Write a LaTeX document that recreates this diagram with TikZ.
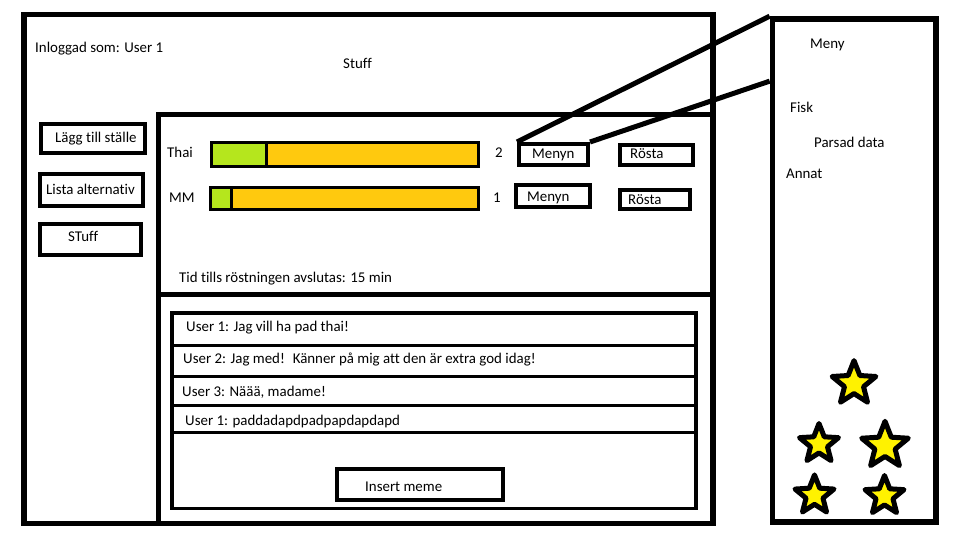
\documentclass[tikz,border=0pt]{standalone}
\usepackage{fontspec}
\setmainfont{Carlito}[Ligatures=NoCommon]
\usepackage{tikz}
\usetikzlibrary{calc}
\usetikzlibrary{shapes.geometric}

\definecolor{barGreen}{RGB}{181,230,29}
\definecolor{barGold}{RGB}{255,201,14}
\definecolor{starYellow}{RGB}{255,242,0}

\tikzset{
    frame/.style={draw, rectangle, line width=5.5pt, inner sep=0pt},
    box/.style={draw, rectangle, line width=4.3pt, inner sep=0pt},
    txt/.style={anchor=west, inner sep=0pt, font=\fontsize{14.9}{17}\selectfont, text height=13.5pt, text depth=3pt},
    staricon/.style={star, star points=5, star point ratio=2.3, draw, fill=starYellow, line width=5pt, line join=round, inner sep=0pt}
}

\begin{document}
\begin{tikzpicture}[x=1pt, y=-1pt]
        \useasboundingbox (0,0) rectangle (955,538);

        % Main window and its two panels
        \node[frame, minimum width=689, minimum height=509] (app) at (368.5,269) {};
        \node[frame, line width=5pt, minimum width=554.5, minimum height=179.5] (votepanel) at (435.75,204.25) {};
        \node[frame, line width=5pt, minimum width=554.5, minimum height=229.5] (chatpanel) at (435.75,408.75) {};

        % Side menu
        \node[frame, line width=5.7pt, minimum width=163.5, minimum height=503] (meny) at (854.25,270.5) {};

        % Top texts
        \node[txt] (login) at (35,47) {Inloggad som: User 1};
        \node[txt] (stuff) at (343,63) {Stuff};

        % Left buttons
        \node[box, minimum width=104, minimum height=29] (addplace) at (93,138.5) {};
        \node[box, minimum width=103, minimum height=32] (listalt) at (91.5,190) {};
        \node[box, minimum width=101, minimum height=31] (stuffbtn) at (90.5,239.5) {};
        \node[txt] at (55,137) {Lägg till ställe};
        \node[txt] at (46,189) {Lista alternativ};
        \node[txt] at (68,236) {STuff};

        % Vote bars
        \fill[barGold] (211.5,142.5) rectangle (478.5,166);
        \fill[barGreen] (211.5,142.5) rectangle (266.5,166);
        \draw[line width=3pt] (266.5,142.5) -- (266.5,166);
        \draw[line width=3pt] (211.5,142.5) rectangle (478.5,166);

        \fill[barGold] (210.5,187.5) rectangle (478.5,209);
        \fill[barGreen] (210.5,187.5) rectangle (231.5,209);
        \draw[line width=3pt] (231.5,187.5) -- (231.5,209);
        \draw[line width=3pt] (210.5,187.5) rectangle (478.5,209);

        \node[txt] (thai) at (167,152) {Thai};
        \node[txt] (mm) at (169,197) {MM};
        \node[txt] (votesthai) at (495,152) {2};
        \node[txt] (votesmm) at (493,197) {1};

        % Menu and vote buttons
        \node[box, line width=4pt, minimum width=69, minimum height=21] (menyn1) at (553.5,154.5) {};
        \node[box, line width=4pt, minimum width=73, minimum height=20] (rosta1) at (656.5,155) {};
        \node[box, line width=4pt, minimum width=74, minimum height=22] (menyn2) at (553,196) {};
        \node[box, line width=4pt, minimum width=70, minimum height=19] (rosta2) at (655,199.5) {};
        \node[txt] at (532,153) {Menyn};
        \node[txt] at (630,153) {Rösta};
        \node[txt] at (527,196) {Menyn};
        \node[txt] at (628,199) {Rösta};

        \node[txt] (timeleft) at (179,277) {Tid tills röstningen avslutas: 15 min};

        % Chat log
        \node[draw, rectangle, line width=3.3pt, inner sep=0pt, minimum width=524, minimum height=195.5] (chatlog) at (434,410.75) {};
        \draw[line width=3.3pt] (172,345.5) -- (696,345.5);
        \draw[line width=3.3pt] (172,376.5) -- (696,376.5);
        \draw[line width=3.3pt] (172,405.5) -- (696,405.5);
        \draw[line width=3.3pt] (172,432.5) -- (696,432.5);
        \node[txt] at (186,326) {User 1: Jag vill ha pad thai!};
        \node[txt] at (183,358) {User 2: Jag med!~ Känner på mig att den är extra god idag!};
        \node[txt] at (182,391) {User 3: Näää, madame!};
        \node[txt] at (185,420) {User 1: paddadapdpadpapdapdapd};

        \node[box, minimum width=166, minimum height=31] (insertbtn) at (420,484.5) {};
        \node[txt] at (365,486) {Insert meme};

        % Side menu texts
        \node[txt] at (810,43) {Meny};
        \node[txt] at (790,107) {Fisk};
        \node[txt] at (814,142) {Parsad data};
        \node[txt] at (786,173) {Annat};

        % Stars
        \node[staricon, minimum size=46] (star1) at (854,383.6) {};
        \node[staricon, minimum size=41] (star2) at (819,444) {};
        \node[staricon, minimum size=49] (star3) at (885,445.8) {};
        \node[staricon, minimum size=41] (star4) at (814.5,495.4) {};
        \node[staricon, minimum size=41] (star5) at (884.5,496) {};

        % Zoom lines from the menu button to the side menu
        \coordinate (menyjoin) at ([yshift=-65pt]meny.north west);
        \draw[line width=5pt] (menyn1.north west) -- (meny.north west);
        \draw[line width=5pt] (menyn1.north east) -- (menyjoin);

      \end{tikzpicture}
\end{document}
